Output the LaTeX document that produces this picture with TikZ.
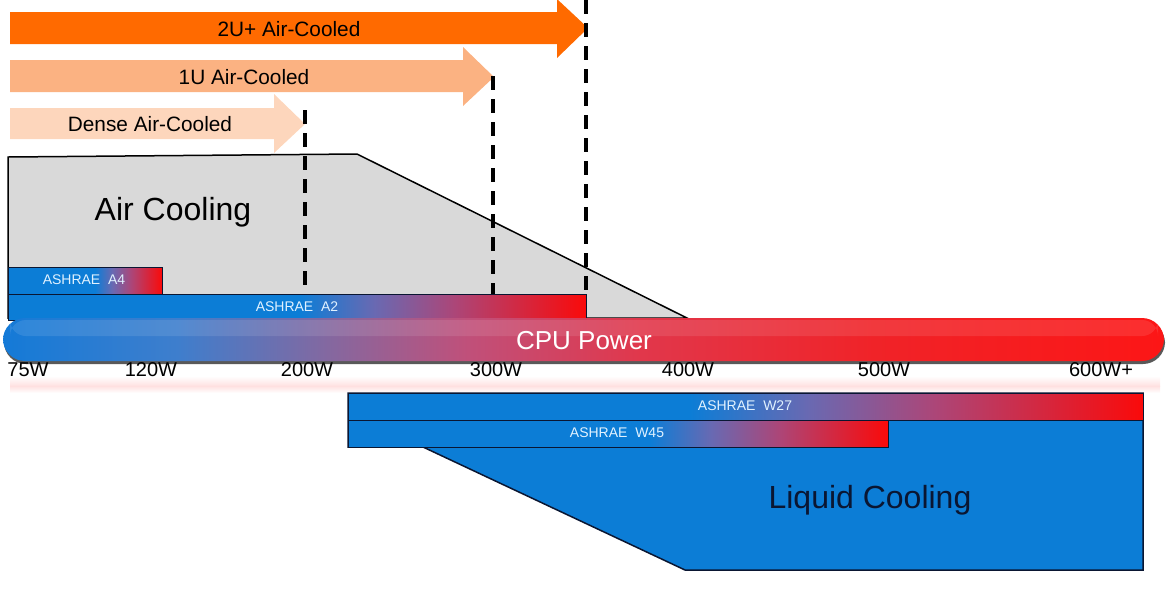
\documentclass[tikz,border=0pt]{standalone}
\usepackage{fontspec}
\setmainfont{Liberation Sans}
\definecolor{cblue}{RGB}{12,125,214}
\definecolor{cmid}{RGB}{105,105,178}
\definecolor{cpurp}{RGB}{172,70,120}
\definecolor{cred}{RGB}{250,10,10}
\definecolor{porange}{RGB}{255,106,0}
\definecolor{plight}{RGB}{251,178,130}
\definecolor{ppale}{RGB}{253,214,188}
\definecolor{agray}{RGB}{217,217,217}
\definecolor{ashtxt}{RGB}{225,242,255}
\definecolor{navy}{RGB}{10,22,50}
\definecolor{p0}{RGB}{20,122,215}
\definecolor{p1}{RGB}{62,126,205}
\definecolor{p2}{RGB}{132,104,160}
\definecolor{p3}{RGB}{192,80,122}
\definecolor{p4}{RGB}{225,55,75}
\definecolor{p5}{RGB}{240,35,40}
\definecolor{p6}{RGB}{252,22,22}
\pgfdeclarehorizontalshading{barshade}{100bp}{color(0bp)=(cblue); color(25bp)=(cblue); color(38bp)=(cmid); color(52bp)=(cpurp); color(75bp)=(cred); color(100bp)=(cred)}
\pgfdeclarehorizontalshading{cpushade}{100bp}{color(0bp)=(p0); color(25bp)=(p0); color(32.5bp)=(p1); color(39bp)=(p2); color(45bp)=(p3); color(52.5bp)=(p4); color(62.5bp)=(p5); color(75bp)=(p6); color(100bp)=(p6)}
\tikzset{
  arrowlbl/.style={font=\fontsize{10.4}{11}\selectfont, text=black, inner sep=0pt},
  bigl/.style={font=\fontsize{16}{18}\selectfont, inner sep=0pt},
  ashlbl/.style={font=\fontsize{7}{8}\selectfont, text=ashtxt, inner sep=0pt},
  wlbl/.style={font=\fontsize{10}{11}\selectfont, text=black, inner sep=0pt},
  dashline/.style={line width=1.9pt, dash pattern=on 7pt off 4.5pt},
  barline/.style={draw=navy, line width=0.5pt},
}
\begin{document}
\begin{tikzpicture}[x=0.5pt,y=-0.5pt]
\useasboundingbox (0,0) rectangle (1168,596);
% arrows
\fill[porange] (10,12)--(557,12)--(557,-1)--(588,28)--(557,58)--(557,44)--(10,44)--cycle;
\node[arrowlbl] (a2u) at (289,29) {2U+ Air-Cooled};
\fill[plight] (10,60)--(463,60)--(463,47)--(494,77)--(463,106)--(463,92)--(10,92)--cycle;
\node[arrowlbl] (a1u) at (244,77) {1U Air-Cooled};
\fill[ppale] (10,108)--(274,108)--(274,94)--(305,124)--(274,153)--(274,139)--(10,139)--cycle;
\node[arrowlbl] (aden) at (150,124) {Dense Air-Cooled};
% air cooling region
\draw[fill=agray, line width=0.75pt] (8,157)--(357,154)--(687,318)--(8,318)--cycle;
\node[bigl] (aircool) at (173,212) {Air Cooling};
% dashed lines
\coordinate (d1t) at (305,110); \coordinate (d1b) at (305,294);
\coordinate (d2t) at (493,76);  \coordinate (d2b) at (493,294);
\coordinate (d3t) at (586,0);   \coordinate (d3b) at (586,294);
\draw[dashline] (d1t) -- (d1b);
\draw[dashline] (d2t) -- (d2b);
\draw[dashline] (d3t) -- (d3b);
% ASHRAE A4
\fill[cblue] (8,267) rectangle (100,294);
\shade[shading=barshade] (95,267) rectangle (162,294);
\draw[barline] (8,267) rectangle (162,294);
\node[ashlbl] (a4) at (84,280) {ASHRAE\ \ A4};
% ASHRAE A2
\fill[cblue] (8,294) rectangle (320,320);
\shade[shading=barshade] (300,294) rectangle (586,320);
\draw[barline] (8,294) rectangle (586,320);
\node[ashlbl] (a2) at (297,307) {ASHRAE\ \ A2};
% reflection
\shade[top color=white, bottom color=red!12] (10,376) rectangle (1160,386);
\shade[top color=red!12, bottom color=white] (10,386) rectangle (1160,393);
% CPU power bar
\fill[gray!70!black, rounded corners=11pt] (4,321) rectangle (1165,364);
\shade[shading=cpushade, rounded corners=11pt] (3,318) rectangle (1164,361);
\fill[white, opacity=0.10, rounded corners=8pt] (10,320) rectangle (1158,336);
\node[font=\fontsize{13}{14}\selectfont, text=white, inner sep=0pt] (cpu) at (584,341) {CPU Power};
% W labels
\node[wlbl] (w75) at (28,370) {75W};
\node[wlbl] (w120) at (151,370) {120W};
\node[wlbl] (w200) at (307,370) {200W};
\node[wlbl] (w300) at (496,370) {300W};
\node[wlbl] (w400) at (688,370) {400W};
\node[wlbl] (w500) at (884,370) {500W};
\node[wlbl] (w600) at (1101,370) {600W+};
% liquid cooling region
\draw[fill=cblue, draw=navy, line width=0.75pt] (423,447)--(685,570)--(1143,570)--(1143,393)--(348,393)--(348,447)--cycle;
\node[bigl, text=navy] (liqcool) at (870,500) {Liquid Cooling};
% ASHRAE W27
\fill[cblue] (348,393) rectangle (720,420);
\shade[shading=barshade] (690,393) rectangle (1143,420);
\draw[barline] (348,393) rectangle (1143,420);
\node[ashlbl] (w27) at (745,406) {ASHRAE\ \ W27};
% ASHRAE W45
\fill[cblue] (348,420) rectangle (680,447);
\shade[shading=barshade] (650,420) rectangle (888,447);
\draw[barline] (348,420) rectangle (888,447);
\node[ashlbl] (w45) at (617,433) {ASHRAE\ \ W45};
\end{tikzpicture}
\end{document}
